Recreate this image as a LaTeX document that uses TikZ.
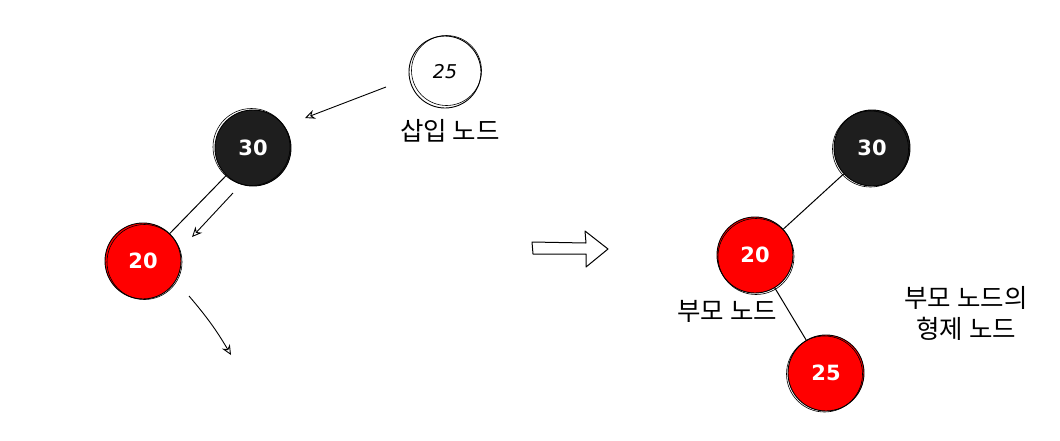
\documentclass[tikz,border=0pt]{standalone}
\usepackage{fontspec}
\newfontfamily\kr{Noto Sans CJK KR}
\newfontfamily\numf{DejaVu Sans}
\usetikzlibrary{arrows.meta}
\definecolor{nodeblack}{HTML}{1E1E1E}
\definecolor{nodered}{HTML}{FF0000}
\newcommand{\gap}{\hspace{6pt}}
\begin{document}
\begin{tikzpicture}[x=1pt,y=-1pt,
  rb/.style={circle, minimum size=76pt, inner sep=0pt, draw=black, line width=0.9pt,
    font=\numf\bfseries\fontsize{21}{24}\selectfont},
  blacknode/.style={rb, fill=nodeblack, text=white},
  rednode/.style={rb, fill=nodered, text=white},
  whitenode/.style={rb, fill=white, text=black, minimum size=72pt, font=\numf\itshape\fontsize{19}{22}\selectfont},
  lbl/.style={font=\kr\fontsize{25.5}{31}\selectfont, align=center, inner sep=0pt},
  sketch/.style={draw=black, line width=0.6pt},
  arr/.style={-{Stealth[open,length=10pt,width=9pt]}, line width=0.9pt},
  edge/.style={line width=1pt}
]
\useasboundingbox (0,0) rectangle (1060,440);

% left side
\node[whitenode] (ins) at (445,72) {25};
\draw[sketch] ([shift={(1.5,-1.5)}]ins.center) circle (35);
\node[lbl] (inslbl) at (450,131) {삽입\gap 노드};

\node[blacknode] (b1) at (253,148) {30};
\draw[sketch] ([shift={(-1.5,-1)}]b1.center) circle (38.5);

\node[rednode] (r1) at (143,261) {20};
\draw[sketch] ([shift={(1.5,1)}]r1.center) circle (37.5);

\draw[edge] (b1) -- (r1);

\coordinate (a1s) at (386,87);
\coordinate (a1e) at (305,118);
\draw[arr] (a1s) -- (a1e);
\coordinate (a2s) at (233,193);
\coordinate (a2e) at (192,237);
\draw[arr] (a2s) -- (a2e);
\coordinate (a3s) at (189,296);
\coordinate (a3e) at (231,355);
\draw[arr] (a3s) to[bend left=5] (a3e);

% block arrow
\draw[line width=1pt, line join=round]
  (532,242) -- (586,243) -- (585,231) -- (608,249) -- (586,267) -- (586,254) -- (533,254) -- cycle;

% right side
\node[blacknode] (b2) at (872,148) {30};
\draw[sketch] ([shift={(-1.5,1)}]b2.center) circle (38);

\node[rednode] (r2) at (755,255) {20};
\draw[sketch] ([shift={(1,1.5)}]r2.center) circle (38);

\node[rednode] (r3) at (826,373) {25};
\draw[sketch] ([shift={(-1.5,1)}]r3.center) circle (38);

\draw[edge] (b2) -- (r2);
\draw[edge] (r2) -- (r3);

\node[lbl] (plbl) at (727,311) {부모\gap 노드};
\node[lbl] (slbl) at (966,313) {부모\gap 노드의\\형제\gap 노드};
\end{tikzpicture}
\end{document}
